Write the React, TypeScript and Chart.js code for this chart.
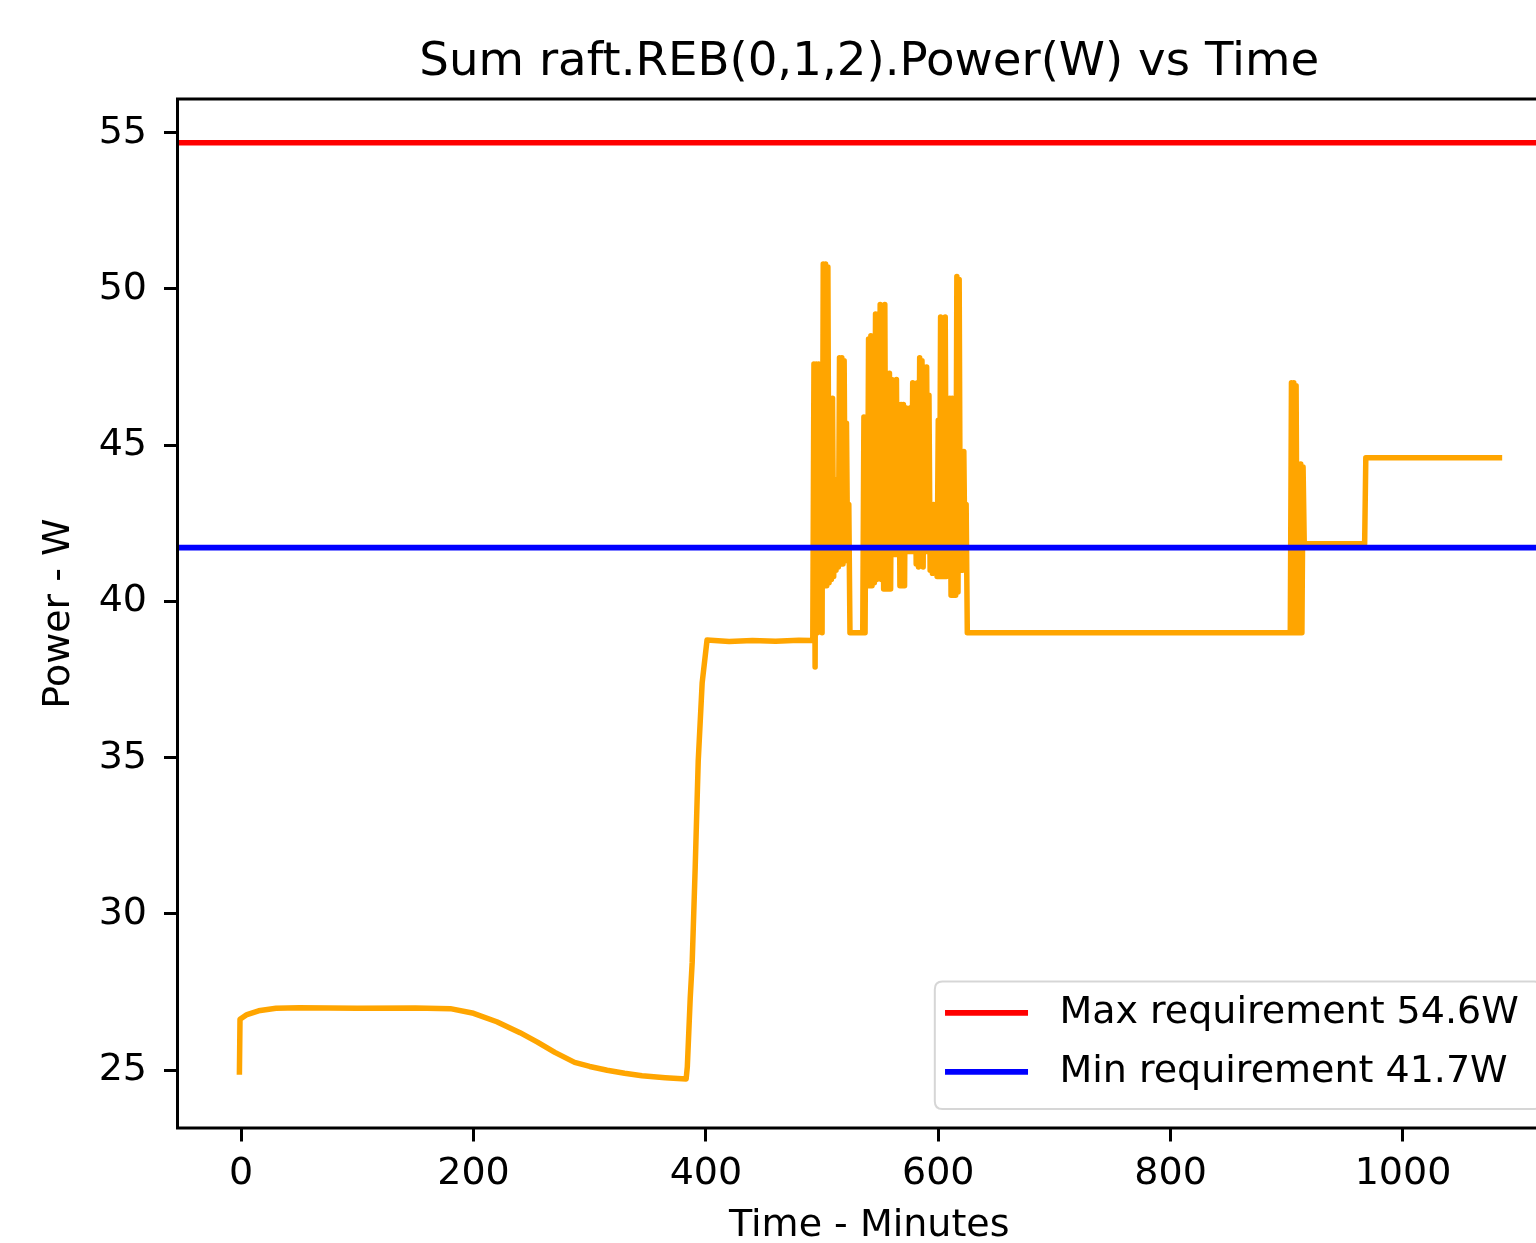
import React, { useEffect, useRef } from "react";
import { Chart, registerables } from "chart.js";

Chart.register(...registerables);

const CHART_TITLE = "Sum raft.REB(0,1,2).Power(W) vs Time";
const X_TITLE = "Time - Minutes";
const Y_TITLE = "Power - W";

const xTickValues = [0, 200, 400, 600, 800, 1000];
const yTickValues = [25, 30, 35, 40, 45, 50, 55];
const xLimits = [-54.8, 1136];
const yLimits = [23.15, 56.08];

const maxRequirementW = 54.68;
const minRequirementW = 41.72;
const requirementLabels = ["Max requirement 54.6W", "Min requirement 41.7W"];
const requirementColors = ["#ff0000", "#0000ff"];
const powerColor = "#ffa500";

// Warm-up, slow drift and step up to the first plateau
const rampMinutes = [
  -1.5, -1, 5, 15, 30, 50, 100, 150, 180, 200, 220, 240, 255, 270, 287, 300,
  315, 330, 345, 365, 383, 384, 386.5, 388.2, 390.8, 393.4, 396.8, 401, 420,
  440, 460, 480, 491,
];
const rampPower = [
  24.94, 26.63, 26.78, 26.9, 26.98, 27.0, 26.98, 26.99, 26.97, 26.82, 26.55,
  26.2, 25.9, 25.57, 25.25, 25.12, 25.0, 24.9, 24.82, 24.76, 24.72, 25.1, 27.3,
  28.45, 31.5, 34.9, 37.4, 38.77, 38.72, 38.75, 38.73, 38.76, 38.75,
];

// First oscillating burst
const burstAMinutes = [
  492, 493, 494, 495, 496, 497, 498, 499, 500, 501, 502, 503, 504, 505, 506,
  507, 508, 509, 510, 511, 512, 513, 514, 515, 516, 517, 518, 519, 520, 521,
  522, 523, 524, 534,
];
const burstAPower = [
  38.8, 47.6, 37.9, 47.6, 39.0, 47.6, 39.2, 45.3, 39.0, 50.8, 40.5, 50.8, 40.5,
  50.7, 40.6, 46.5, 40.7, 46.5, 40.8, 43.9, 41.0, 43.8, 41.1, 47.8, 41.2, 47.8,
  41.2, 47.7, 41.3, 45.7, 41.4, 43.1, 39.0, 39.0,
];

// Second, longer oscillating burst
const burstBMinutes = [
  535, 536, 537, 538, 539, 540, 541, 542, 543, 544,
  545, 546, 547, 548, 549, 550, 551, 552, 553, 554,
  555, 556, 557, 558, 559, 560, 561, 562, 563, 564,
  565, 566, 567, 568, 569, 570, 571, 572, 573, 574,
  575, 576, 577, 578, 579, 580, 581, 582, 583, 584,
  585, 586, 587, 588, 589, 590, 591, 592, 593, 594,
  595, 596, 597, 598, 599, 600, 601, 602, 603, 604,
  605, 606, 607, 608, 609, 610, 611, 612, 613, 614,
  615, 616, 617, 618, 619, 620, 621, 622, 623, 624,
];
const burstBPower = [
  39.0, 45.9, 39.0, 45.9, 40.5, 48.4, 40.5, 48.5, 40.5, 48.4,
  40.6, 49.2, 40.7, 49.2, 40.8, 49.5, 40.7, 49.4, 40.4, 49.5,
  40.4, 47.3, 40.4, 47.3, 40.4, 47.1, 41.5, 47.0, 41.5, 47.1,
  41.5, 46.3, 40.5, 46.3, 40.5, 46.3, 40.5, 46.2, 41.6, 46.1,
  41.6, 46.2, 41.6, 47.0, 41.6, 46.9, 41.2, 47.0, 41.1, 47.8,
  41.2, 47.7, 41.1, 47.5, 41.6, 47.5, 41.6, 46.6, 41.0, 43.1,
  40.9, 43.1, 41.0, 43.1, 40.8, 45.8, 40.8, 49.1, 40.8, 49.0,
  40.8, 49.1, 40.8, 46.5, 40.9, 46.5, 40.2, 46.5, 40.2, 46.4,
  40.2, 50.4, 40.3, 50.3, 41.0, 44.8, 41.0, 44.8, 41.3, 43.1,
];

// Long plateau, short burst and final steps
const tailMinutes = [
  625, 700, 800, 901, 903, 904, 905, 906, 907, 908, 909, 910, 911, 912, 913,
  914, 915, 967, 968, 1083,
];
const tailPower = [
  39.0, 39.0, 39.0, 39.0, 39.0, 47.0, 39.0, 47.0, 39.0, 46.9, 39.0, 44.4, 39.0,
  44.4, 39.0, 44.3, 41.85, 41.85, 44.6, 44.6,
];

const FONT = '"DejaVu Sans", "Liberation Sans", sans-serif';
const TEXT_SIZE = 38;
const TITLE_SIZE = 46.7;

const CANVAS_W = 1600;
const CANVAS_H = 1243;

const decorPlugin = {
  id: "decor",
  afterDatasetsDraw(chart: any) {
    const { ctx, chartArea: a } = chart;
    ctx.save();
    // axes frame (all four spines)
    ctx.strokeStyle = "#000";
    ctx.lineWidth = 3;
    ctx.strokeRect(a.left, a.top, a.right - a.left, a.bottom - a.top);

    // title
    ctx.fillStyle = "#000";
    ctx.font = `${TITLE_SIZE}px ${FONT}`;
    ctx.textAlign = "center";
    ctx.textBaseline = "middle";
    ctx.fillText(CHART_TITLE, (a.left + a.right) / 2, 63);

    // x axis title
    ctx.font = `${TEXT_SIZE}px ${FONT}`;
    ctx.fillText(X_TITLE, (a.left + a.right) / 2, 1226);

    // legend (lower right, inside axes)
    const fs = TEXT_SIZE;
    ctx.font = `${fs}px ${FONT}`;
    const textW = Math.max(...requirementLabels.map((l) => ctx.measureText(l).width));
    const pad = 0.4 * fs;
    const handleLen = 2 * fs;
    const handleGap = 0.8 * fs + 3;
    const axPad = 0.5 * fs;
    const rowStep = 59;
    const boxW = 2 * pad + handleLen + handleGap + textW + 8;
    const boxH = 2 * pad + rowStep * (requirementLabels.length - 1) + fs;
    const right = a.right - axPad;
    const bottom = a.bottom - axPad;
    const left = right - boxW;
    const top = bottom - boxH;
    const r = 0.2 * fs;
    ctx.beginPath();
    ctx.moveTo(left + r, top);
    ctx.lineTo(right - r, top);
    ctx.quadraticCurveTo(right, top, right, top + r);
    ctx.lineTo(right, bottom - r);
    ctx.quadraticCurveTo(right, bottom, right - r, bottom);
    ctx.lineTo(left + r, bottom);
    ctx.quadraticCurveTo(left, bottom, left, bottom - r);
    ctx.lineTo(left, top + r);
    ctx.quadraticCurveTo(left, top, left + r, top);
    ctx.closePath();
    ctx.fillStyle = "rgba(255,255,255,0.8)";
    ctx.fill();
    ctx.strokeStyle = "rgba(204,204,204,0.8)";
    ctx.lineWidth = 2;
    ctx.stroke();

    requirementLabels.forEach((label, i) => {
      const cy = top + pad + 16 + i * rowStep;
      ctx.beginPath();
      ctx.strokeStyle = requirementColors[i];
      ctx.lineWidth = 5.7;
      ctx.lineCap = "butt";
      ctx.moveTo(left + pad - 5, cy);
      ctx.lineTo(left + pad + handleLen + 2, cy);
      ctx.stroke();
      ctx.fillStyle = "#000";
      ctx.textAlign = "left";
      ctx.textBaseline = "middle";
      ctx.fillText(label, left + pad + handleLen + handleGap, cy);
    });
    ctx.restore();
  },
};

export default function App() {
  const ref = useRef<HTMLCanvasElement>(null);

  useEffect(() => {
    const canvas = ref.current;
    if (!canvas) return;

    const minutes = [...rampMinutes, ...burstAMinutes, ...burstBMinutes, ...tailMinutes];
    const power = [...rampPower, ...burstAPower, ...burstBPower, ...tailPower];
    const powerPoints = minutes.map((t, i) => ({ x: t, y: power[i] }));

    const chart = new Chart(canvas, {
      type: "line",
      data: {
        datasets: [
          {
            label: "Power",
            data: powerPoints,
            borderColor: powerColor,
            backgroundColor: powerColor,
            borderWidth: 5.5,
            pointRadius: 0,
            tension: 0,
            fill: false,
            borderJoinStyle: "round",
            borderCapStyle: "square",
            order: 3,
          },
          {
            label: requirementLabels[0],
            data: [
              { x: xLimits[0], y: maxRequirementW },
              { x: xLimits[1], y: maxRequirementW },
            ],
            borderColor: requirementColors[0],
            borderWidth: 5.7,
            pointRadius: 0,
            fill: false,
            order: 2,
          },
          {
            label: requirementLabels[1],
            data: [
              { x: xLimits[0], y: minRequirementW },
              { x: xLimits[1], y: minRequirementW },
            ],
            borderColor: requirementColors[1],
            borderWidth: 5.7,
            pointRadius: 0,
            fill: false,
            order: 1,
          },
        ],
      },
      options: {
        responsive: false,
        animation: false,
        devicePixelRatio: 1,
        events: [],
        layout: { padding: { left: 0, top: 99, right: CANVAS_W - 1561, bottom: 0 } },
        plugins: {
          legend: { display: false },
          tooltip: { enabled: false },
          title: { display: false },
        },
        scales: {
          x: {
            type: "linear",
            min: xLimits[0],
            max: xLimits[1],
            afterBuildTicks: (s: any) => {
              s.ticks = xTickValues.map((v) => ({ value: v }));
            },
            afterFit: (s: any) => {
              s.height = CANVAS_H - 1128;
            },
            ticks: {
              font: { family: FONT, size: TEXT_SIZE },
              color: "#000",
              padding: 10,
              maxRotation: 0,
              autoSkip: false,
              callback: (v: any) => String(v),
            },
            grid: {
              display: true,
              drawOnChartArea: false,
              drawTicks: true,
              tickLength: 13.5,
              tickWidth: 3,
              tickColor: "#000",
              color: "#000",
            },
            border: { display: false },
            title: { display: false },
          },
          y: {
            type: "linear",
            min: yLimits[0],
            max: yLimits[1],
            afterBuildTicks: (s: any) => {
              s.ticks = yTickValues.map((v) => ({ value: v }));
            },
            afterFit: (s: any) => {
              s.width = 177.5;
            },
            ticks: {
              font: { family: FONT, size: TEXT_SIZE },
              color: "#000",
              padding: 17,
              autoSkip: false,
              callback: (v: any) => String(v),
            },
            grid: {
              display: true,
              drawOnChartArea: false,
              drawTicks: true,
              tickLength: 13.5,
              tickWidth: 3,
              tickColor: "#000",
              color: "#000",
            },
            border: { display: false },
            title: {
              display: true,
              text: Y_TITLE,
              color: "#000",
              font: { family: FONT, size: TEXT_SIZE, lineHeight: 1.2 },
              padding: { top: 36.7, bottom: 0 },
            },
          },
        },
      },
      plugins: [decorPlugin],
    });

    return () => chart.destroy();
  }, []);

  return (
    <div
      style={{
        position: "fixed",
        left: 0,
        top: 0,
        width: 1536,
        height: 1243,
        overflow: "hidden",
        background: "#fff",
      }}
    >
      <canvas
        ref={ref}
        width={CANVAS_W}
        height={CANVAS_H}
        style={{ display: "block", width: CANVAS_W, height: CANVAS_H }}
      />
    </div>
  );
}
